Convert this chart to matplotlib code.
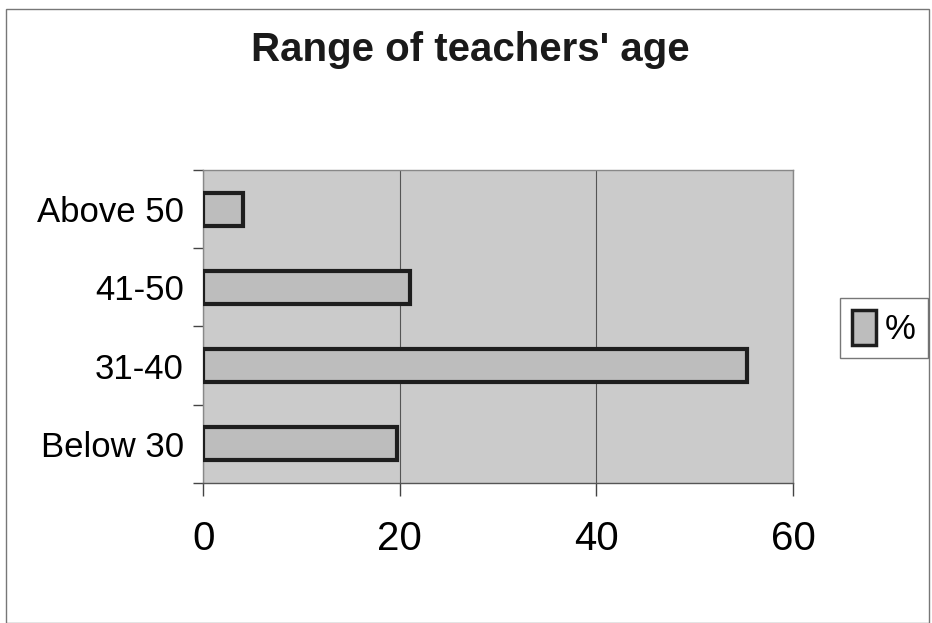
import matplotlib.pyplot as plt
from matplotlib.patches import Rectangle

categories = ['Below 30', '31-40', '41-50', 'Above 50']
values = [19.7, 55.3, 21.0, 4.1]
x_ticks = [0, 20, 40, 60]

plt.rcParams['font.family'] = ['Liberation Sans', 'DejaVu Sans']

fig = plt.figure(figsize=(9.32, 6.23), dpi=100)
ax = fig.add_axes([0.218, 0.225, 0.633, 0.502])
ax.set_facecolor('#cbcbcb')

pos = range(len(categories))
ax.barh(pos, values, height=0.42, color='#bdbdbd', edgecolor='#1e1e1e',
        linewidth=3, zorder=3, label='%')

ax.set_xlim(0, 60)
ax.set_ylim(-0.5, len(categories) - 0.5)
ax.set_xticks(x_ticks)
ax.set_yticks(list(pos))
ax.set_yticklabels(categories)
ax.set_yticks([p - 0.5 for p in range(len(categories) + 1)], minor=True)
ax.tick_params(axis='y', which='major', length=0, labelsize=25, pad=14)
ax.tick_params(axis='y', which='minor', length=7, width=1, color='#444444')
ax.tick_params(axis='x', length=9, width=1, color='#444444', labelsize=29, pad=18)
ax.grid(axis='x', color='#555555', linewidth=0.8, zorder=1)
for s in ax.spines.values():
    s.set_color('#888888')
    s.set_linewidth(1)
ax.spines['bottom'].set_color('#555555')

fig.suptitle("Range of teachers' age", x=0.505, y=0.95, fontsize=29, fontweight='bold',
             color='#1a1a1a')

leg = fig.legend(loc='center left', bbox_to_anchor=(0.901, 0.473), fontsize=25,
                 handlelength=0.7, handleheight=1.15, handletextpad=0.25,
                 borderpad=0.35, borderaxespad=0, frameon=True, fancybox=False,
                 edgecolor='#555555')
for h in leg.legend_handles:
    h.set_linewidth(2.5)

fig.patches.append(Rectangle((0.006, 0.0), 0.991, 0.985, transform=fig.transFigure,
                             fill=False, edgecolor='#777777', linewidth=1))

fig.savefig('out.png', dpi=100)
